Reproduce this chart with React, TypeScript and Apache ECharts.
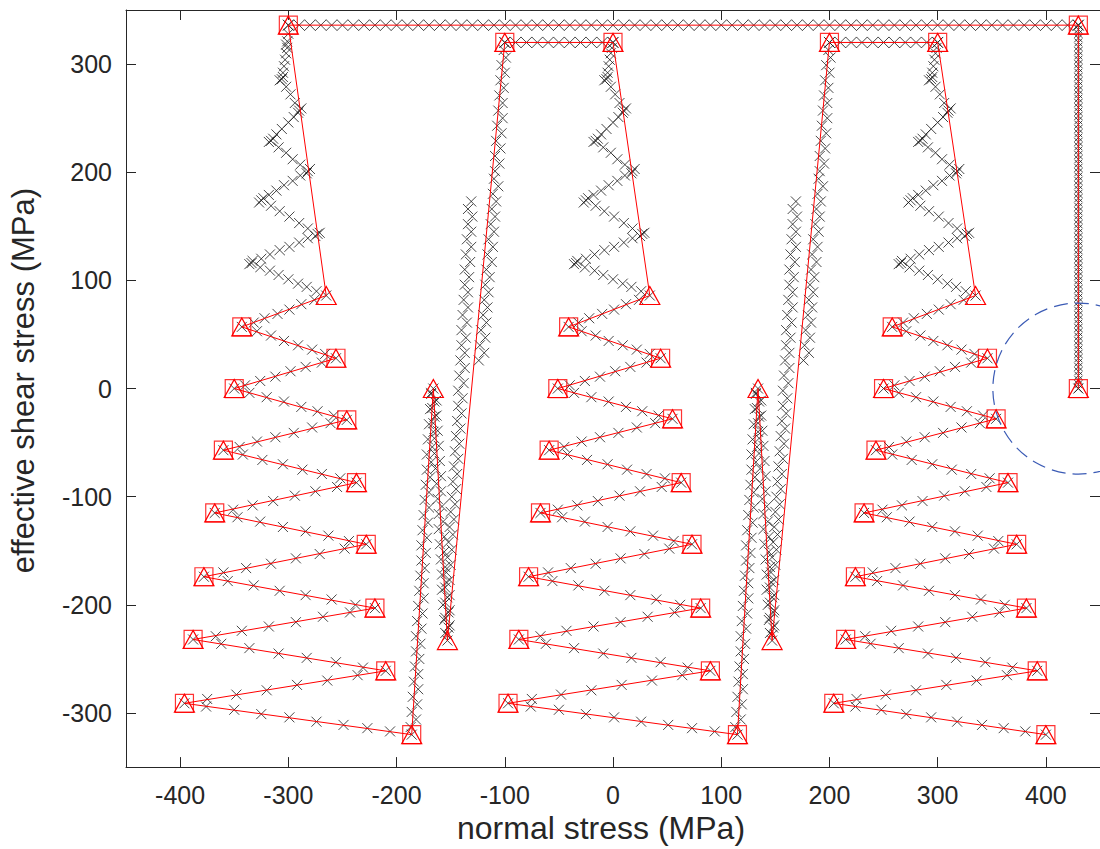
import React, { useEffect, useRef } from 'react';
import * as echarts from 'echarts';

// ---------- axes ----------
const X_MIN = -450;
const X_MAX = 450;
const Y_MIN = -350;
const Y_MAX = 350;
const xAxisTitle = 'normal stress (MPa)';
const yAxisTitle = 'effective shear stress (MPa)';

// ---------- red polyline vertices ----------
const topLineRed = [[430, 0], [430, 336], [-300, 336]];
const leftUnitRed = [[-265, 86], [-343, 57], [-256, 28], [-350, 0], [-246, -29], [-360, -57], [-237, -87], [-368, -115], [-228, -144], [-378, -174], [-220, -203], [-388, -232], [-210, -261], [-396, -291], [-186, -320]];
const leftSpikeRed = [[-166, 0], [-153, -233], [-100, 320], [0, 320]];
const midUnitRed = [[34, 86], [-41, 57], [44, 28], [-51, 0], [55, -28], [-59, -57], [63, -87], [-67, -115], [73, -144], [-78, -174], [81, -203], [-87, -232], [90, -261], [-97, -291], [115, -320]];
const midSpikeRed = [[134, 0], [147, -233], [200, 320], [300, 320]];
const rightUnitRed = [[335, 86], [258, 57], [346, 28], [250, 0], [354, -28], [243, -57], [365, -87], [232, -115], [373, -144], [224, -174], [382, -203], [215, -232], [392, -261], [204, -291], [400, -320]];

// ---------- black "x" sample points ----------
// each zig-zag unit repeats at these horizontal positions
const unitOffsets = [-300, 0, 300];
const spikeOffsets = [-300, 0];

// lower zig-zag samples (relative to unit position)
const zigzagBlackLocal = [
  [24, 82], [12, 78], [1, 73], [-10, 69], [-22, 65], [-32, 61],
  [-29, 53], [-16, 49], [-4, 44], [9, 40], [22, 36], [34, 32],
  [31, 24], [16, 20], [2, 16], [-12, 11], [-26, 7], [-40, 3],
  [-36, -4], [-20, -8], [-4, -12], [12, -17], [27, -21], [42, -25],
  [39, -32], [22, -36], [5, -41], [-12, -45], [-29, -49], [-45, -54],
  [-42, -61], [-24, -66], [-5, -70], [13, -75], [31, -79], [48, -83],
  [45, -91], [25, -95], [6, -99], [-14, -104], [-33, -108], [-51, -112],
  [-47, -119], [-26, -123], [-5, -128], [16, -132], [37, -136], [56, -141],
  [52, -148], [29, -153], [7, -157], [-16, -162], [-39, -166], [-60, -170],
  [-56, -178], [-32, -182], [-8, -187], [16, -191], [40, -195], [62, -200],
  [57, -207], [32, -211], [7, -216], [-18, -220], [-43, -224], [-67, -229],
  [-62, -236], [-36, -240], [-9, -245], [17, -249], [44, -253], [69, -258],
  [64, -265], [36, -270], [8, -274], [-20, -279], [-48, -283], [-75, -287],
];

// upper, narrowing zig-zag samples (relative to unit position)
const upperBlackLocal = [
  [26, 90], [17, 94], [9, 97], [0, 101], [-9, 105], [-17, 109], [-26, 112], [-34, 116], [-36, 115], [-33, 118],
  [-25, 120], [-17, 124], [-8, 128], [1, 131], [10, 135], [18, 139], [27, 143], [25, 141], [29, 144],
  [18, 148], [10, 153], [1, 159], [-8, 164], [-16, 169], [-25, 174], [-27, 172], [-23, 176],
  [-18, 179], [-11, 183], [-4, 188], [4, 192], [11, 197], [18, 201], [17, 199], [20, 203],
  [11, 207], [4, 212], [-2, 218], [-9, 223], [-16, 229], [-18, 228], [-14, 231],
  [-11, 235], [-6, 240], [0, 246], [5, 251], [10, 257], [9, 255], [12, 259],
  [6, 264], [2, 272], [-2, 279], [-6, 286], [-8, 285], [-5, 288],
  [-5, 292], [-4, 298], [-3, 304], [-2, 310], [-1, 315],
];

const leftLastBlack = [[-376, -294], [-350, -297], [-325, -301], [-299, -304], [-274, -308], [-249, -311], [-227, -314], [-206, -317]];
const midLastBlack = [[-76, -294], [-50, -297], [-25, -301], [1, -304], [26, -308], [51, -311], [73, -314], [94, -317]];
const rightLastBlack = [[224, -294], [248, -297], [271, -301], [294, -304], [318, -308], [341, -311], [361, -314], [381, -317]];
const leftTopExtraBlack = [[-301, 321], [-300, 328], [-302, 318]];

// narrow spike samples (relative to spike position)
const spikeLegA = [[113, -313], [118, -306], [114, -299], [119, -292], [115, -285], [120, -278], [116, -271], [120, -264], [117, -257], [121, -250], [118, -243], [122, -236], [118, -229], [123, -222], [119, -215], [124, -208], [120, -201], [125, -194], [121, -187], [125, -180], [122, -173], [126, -166], [123, -159], [127, -152], [123, -145], [128, -138], [124, -131], [129, -124], [125, -117], [130, -110], [126, -103], [130, -96], [127, -89], [131, -82], [128, -75], [132, -68], [128, -61], [133, -54], [129, -47], [134, -40], [130, -33], [135, -26], [131, -19], [135, -12], [132, -5]];
const spikeLegB = [[132, -4], [137, -11], [133, -18], [137, -25], [134, -32], [138, -39], [135, -46], [139, -53], [135, -60], [140, -67], [136, -74], [141, -81], [137, -88], [141, -95], [138, -102], [142, -109], [139, -116], [143, -123], [139, -130], [144, -137], [140, -144], [144, -151], [141, -158], [145, -165], [142, -172], [146, -179], [142, -186], [147, -193], [143, -200], [148, -207], [144, -214], [148, -221], [147, -228]];
const spikeLegC = [[145, -226], [149, -219], [145, -212], [149, -205], [145, -198], [149, -191], [145, -184], [149, -177], [146, -170], [150, -163], [147, -156], [151, -149], [148, -142], [152, -135], [149, -128], [153, -121], [150, -114], [154, -107], [151, -100], [155, -93], [152, -86], [156, -79], [153, -72], [157, -65], [154, -58], [158, -51], [155, -44], [159, -37], [156, -30], [160, -23], [157, -16], [161, -9], [157, -2], [162, 5], [158, 12], [163, 19], [159, 26], [163, 33], [160, 40], [164, 47], [160, 54], [165, 61], [161, 68], [166, 75], [162, 82], [166, 89], [163, 96], [167, 103], [163, 110], [168, 117], [164, 124], [169, 131], [165, 138], [169, 145], [166, 152], [170, 159], [166, 166], [169, 173]];
const spikeRightColumn = [[176, 26], [181, 33], [177, 40], [182, 47], [178, 54], [183, 61], [180, 68], [184, 75], [181, 82], [185, 89], [182, 96], [186, 103], [183, 110], [188, 117], [184, 124], [189, 131], [185, 138], [190, 145], [187, 152], [191, 159], [188, 166], [192, 173], [189, 180], [194, 187], [190, 194]];
const spikeUpper = [[191, 201], [195, 208], [191, 215], [196, 222], [192, 229], [197, 236], [193, 243], [198, 250], [194, 257], [198, 264], [195, 271], [199, 278], [196, 285], [200, 292], [197, 299], [201, 306], [199, 313]];

// straight runs of samples
const topLineY = 336;
const topLineBlackX = [-300, -290, -280, -270, -260, -250, -240, -230, -220, -210, -200, -190, -180, -170, -160, -150, -140, -130, -120, -110, -100, -90, -80, -70, -60, -50, -40, -30, -20, -10, 0, 10, 20, 30, 40, 50, 60, 70, 80, 90, 100, 110, 120, 130, 140, 150, 160, 170, 180, 190, 200, 210, 220, 230, 240, 250, 260, 270, 280, 290, 300, 310, 320, 330, 340, 350, 360, 370, 380, 390, 400, 410, 420, 430];
const shelfY = 320;
const shelfBlackX = [-100, -90, -80, -70, -60, -50, -40, -30, -20, -10, 0, 200, 210, 220, 230, 240, 250, 260, 270, 280, 290, 300];
const verticalX = 430;
const verticalBlackY = [0, 4, 8, 12, 16, 20, 24, 28, 32, 36, 40, 44, 48, 52, 56, 60, 64, 68, 72, 76, 80, 84, 88, 92, 96, 100, 104, 108, 112, 116, 120, 124, 128, 132, 136, 140, 144, 148, 152, 156, 160, 164, 168, 172, 176, 180, 184, 188, 192, 196, 200, 204, 208, 212, 216, 220, 224, 228, 232, 236, 240, 244, 248, 252, 256, 260, 264, 268, 272, 276, 280, 284, 288, 292, 296, 300, 304, 308, 312, 316, 320, 324, 328, 332, 336];

// dashed circle: centre x, centre y, radius
const circleData = [[430, 0, 79]];

const AXIS_COLOR = '#262626';
const FONT = '"Liberation Sans", Arial, sans-serif';
const X_SYMBOL = 'path://M0,0L10,10M10,0L0,10';

export default function App() {
  const ref = useRef<HTMLDivElement>(null);

  useEffect(() => {
    if (!ref.current) return;
    const chart = echarts.init(ref.current, null, { renderer: 'svg' });

    const shift = (arr: number[][], dx: number) => arr.map((p) => [p[0] + dx, p[1]]);

    const redPath = [
      ...topLineRed,
      ...leftUnitRed,
      ...leftSpikeRed,
      ...midUnitRed,
      ...midSpikeRed,
      ...rightUnitRed,
    ];
    const squarePts = [
      ...topLineRed,
      ...leftUnitRed.slice(1),
      ...leftSpikeRed.slice(2),
      ...midUnitRed.slice(1),
      ...midSpikeRed.slice(2),
      ...rightUnitRed.slice(1),
    ];

    const blackPts: number[][] = [];
    unitOffsets.forEach((dx) => {
      blackPts.push(...shift(zigzagBlackLocal, dx));
      blackPts.push(...shift(upperBlackLocal, dx));
    });
    blackPts.push(...leftLastBlack, ...midLastBlack, ...rightLastBlack, ...leftTopExtraBlack);
    blackPts.push(...redPath);

    const spikePts: number[][] = [];
    spikeOffsets.forEach((dx) => {
      [spikeLegA, spikeLegB, spikeLegC, spikeRightColumn, spikeUpper].forEach((leg) => {
        spikePts.push(...shift(leg, dx));
      });
    });

    const topBlack = topLineBlackX.map((x) => [x, topLineY]);
    const shelfBlack = shelfBlackX.map((x) => [x, shelfY]);
    const vertBlack = verticalBlackY.map((y) => [verticalX, y]);

    const labelStyle = { fontFamily: FONT, fontSize: 25, color: AXIS_COLOR };
    const axisLine = { show: true, onZero: false, lineStyle: { color: AXIS_COLOR, width: 1 } };
    const axisTick = { show: true, inside: true, length: 10, lineStyle: { color: AXIS_COLOR, width: 1 } };
    const xStyle = { color: 'none', borderColor: '#1a1a1a', borderWidth: 1 };

    const option: any = {
      animation: false,
      backgroundColor: '#ffffff',
      grid: { left: 124, right: -6, top: 10, bottom: 78, containLabel: false },
      xAxis: [
        {
          type: 'value', min: X_MIN, max: X_MAX, splitNumber: 9, position: 'bottom',
          axisLine, axisTick, splitLine: { show: false },
          axisLabel: { ...labelStyle, margin: 15, showMinLabel: false, showMaxLabel: false },
          name: xAxisTitle, nameLocation: 'middle', nameGap: 43,
          nameTextStyle: { fontFamily: FONT, fontSize: 32, color: AXIS_COLOR, padding: [0, 24, 0, 0] },
        },
        {
          type: 'value', min: X_MIN, max: X_MAX, splitNumber: 9, position: 'top',
          axisLine, axisTick, splitLine: { show: false }, axisLabel: { show: false },
        },
      ],
      yAxis: [
        {
          type: 'value', min: Y_MIN, max: Y_MAX, splitNumber: 7, position: 'left',
          axisLine, axisTick, splitLine: { show: false },
          axisLabel: { ...labelStyle, margin: 14, showMinLabel: false, showMaxLabel: false },
          name: yAxisTitle, nameLocation: 'middle', nameGap: 87, nameRotate: 90,
          nameTextStyle: { fontFamily: FONT, fontSize: 31, color: AXIS_COLOR, padding: [0, 0, 0, 16] },
        },
        {
          type: 'value', min: Y_MIN, max: Y_MAX, splitNumber: 7, position: 'right',
          axisLine, axisTick, splitLine: { show: false }, axisLabel: { show: false },
        },
      ],
      series: [
        { type: 'scatter', data: blackPts, symbol: X_SYMBOL, symbolSize: 10, silent: true, z: 2, itemStyle: xStyle },
        { type: 'scatter', data: spikePts, symbol: X_SYMBOL, symbolSize: 10, silent: true, z: 2, itemStyle: xStyle },
        { type: 'scatter', data: topBlack.concat(shelfBlack), symbol: X_SYMBOL, symbolSize: 11, silent: true, z: 2, itemStyle: xStyle },
        { type: 'scatter', data: vertBlack, symbol: X_SYMBOL, symbolSize: 8, silent: true, z: 2, itemStyle: xStyle },
        {
          type: 'line', data: redPath, symbol: 'triangle', symbolSize: [20, 18], showAllSymbol: true, silent: true, z: 3,
          lineStyle: { color: '#ff0000', width: 1 },
          itemStyle: { color: 'transparent', borderColor: '#ff0000', borderWidth: 1.2 },
        },
        {
          type: 'scatter', data: squarePts, symbol: 'rect', symbolSize: 18, silent: true, z: 4,
          itemStyle: { color: 'transparent', borderColor: '#ff0000', borderWidth: 1.2 },
        },
        {
          type: 'custom', data: circleData, silent: true, z: 5,
          renderItem: (_params: any, api: any) => {
            const c = api.coord([api.value(0), api.value(1)]);
            const r = api.size([api.value(2), 0])[0];
            return {
              type: 'circle',
              shape: { cx: c[0], cy: c[1], r },
              style: { fill: 'none', stroke: '#3b5bb5', lineWidth: 1.2, lineDash: [14, 7] },
            };
          },
        },
      ],
    };

    chart.setOption(option);
    return () => chart.dispose();
  }, []);

  return (
    <div
      ref={ref}
      style={{ position: 'absolute', left: 0, top: 0, width: 1100, height: 849, background: '#ffffff' }}
    />
  );
}
